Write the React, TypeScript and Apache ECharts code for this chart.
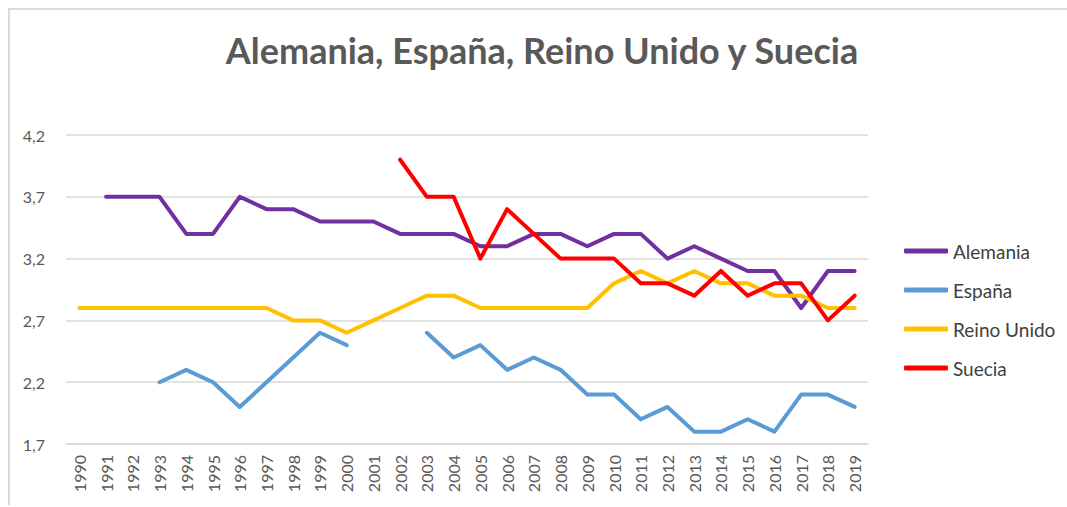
import React, { useEffect, useRef } from "react";
import * as echarts from "echarts";

const years = [
  "1990","1991","1992","1993","1994","1995","1996","1997","1998","1999",
  "2000","2001","2002","2003","2004","2005","2006","2007","2008","2009",
  "2010","2011","2012","2013","2014","2015","2016","2017","2018","2019",
];

const alemania = [null,3.7,3.7,3.7,3.4,3.4,3.7,3.6,3.6,3.5,3.5,3.5,3.4,3.4,3.4,3.3,3.3,3.4,3.4,3.3,3.4,3.4,3.2,3.3,3.2,3.1,3.1,2.8,3.1,3.1];
const espana = [null,null,null,2.2,2.3,2.2,2.0,2.2,2.4,2.6,2.5,null,null,2.6,2.4,2.5,2.3,2.4,2.3,2.1,2.1,1.9,2.0,1.8,1.8,1.9,1.8,2.1,2.1,2.0];
const reinoUnido = [2.8,2.8,2.8,2.8,2.8,2.8,2.8,2.8,2.7,2.7,2.6,2.7,2.8,2.9,2.9,2.8,2.8,2.8,2.8,2.8,3.0,3.1,3.0,3.1,3.0,3.0,2.9,2.9,2.8,2.8];
const suecia = [null,null,null,null,null,null,null,null,null,null,null,null,4.0,3.7,3.7,3.2,3.6,3.4,3.2,3.2,3.2,3.0,3.0,2.9,3.1,2.9,3.0,3.0,2.7,2.9];

const seriesNames = ["Alemania", "España", "Reino Unido", "Suecia"];
const seriesData = [alemania, espana, reinoUnido, suecia];
const seriesColors = ["#7030A0", "#5B9BD5", "#FFC000", "#FF0000"];

const titleText = "Alemania, España, Reino Unido y Suecia";
const FONT = "Lato, 'Open Sans', sans-serif";

export default function App() {
  const ref = useRef<HTMLDivElement>(null);
  useEffect(() => {
    if (!ref.current) return;
    const chart = echarts.init(ref.current, null, { renderer: "svg" });
    chart.setOption({
      animation: false,
      backgroundColor: "#ffffff",
      textStyle: { fontFamily: FONT },
      graphic: [
        { type: "line", shape: { x1: 8, y1: 9, x2: 1067, y2: 9 }, style: { stroke: "#d9d9d9", lineWidth: 2 } },
        { type: "line", shape: { x1: 9, y1: 8, x2: 9, y2: 505 }, style: { stroke: "#d9d9d9", lineWidth: 2 } },
        {
          type: "text",
          x: 542,
          y: 50,
          style: {
            text: titleText,
            fontFamily: FONT,
            fontSize: 36,
            fontWeight: "bold",
            fill: "#595959",
            textAlign: "center",
            textVerticalAlign: "middle",
          },
        },
      ],
      legend: {
        orient: "vertical",
        left: 899,
        top: 235,
        itemWidth: 44,
        itemHeight: 5,
        itemGap: 17,
        icon: "roundRect",
        textStyle: { fontFamily: FONT, fontSize: 19, color: "#404040", lineHeight: 22 },
        data: seriesNames,
      },
      grid: { left: 66, right: 199, top: 135, bottom: 63, containLabel: false, outerBoundsMode: "none" },
      xAxis: {
        type: "category",
        data: years,
        boundaryGap: true,
        axisLine: { show: true, lineStyle: { color: "#d9d9d9", width: 1.5 } },
        axisTick: { show: false },
        axisLabel: { rotate: 90, fontSize: 16, color: "#595959", margin: 11, fontFamily: FONT, interval: 0 },
      },
      yAxis: {
        type: "value",
        min: 1.7,
        max: 4.2,
        interval: 0.5,
        axisLine: { show: false },
        axisTick: { show: false },
        splitLine: { lineStyle: { color: "#d9d9d9", width: 1.5 } },
        axisLabel: {
          fontSize: 16,
          color: "#595959",
          margin: 21,
          fontFamily: FONT,
          formatter: (v: number) => v.toFixed(1).replace(".", ","),
        },
      },
      series: seriesNames.map((name, i) => ({
        name,
        type: "line",
        data: seriesData[i],
        showSymbol: false,
        symbol: "none",
        connectNulls: false,
        color: seriesColors[i],
        lineStyle: { width: 4, color: seriesColors[i], cap: "round", join: "round" },
        itemStyle: { color: seriesColors[i] },
      })),
    });
    return () => chart.dispose();
  }, []);
  return (
    <div
      ref={ref}
      style={{ position: "fixed", left: 0, top: 0, width: 1067, height: 507 }}
    />
  );
}
